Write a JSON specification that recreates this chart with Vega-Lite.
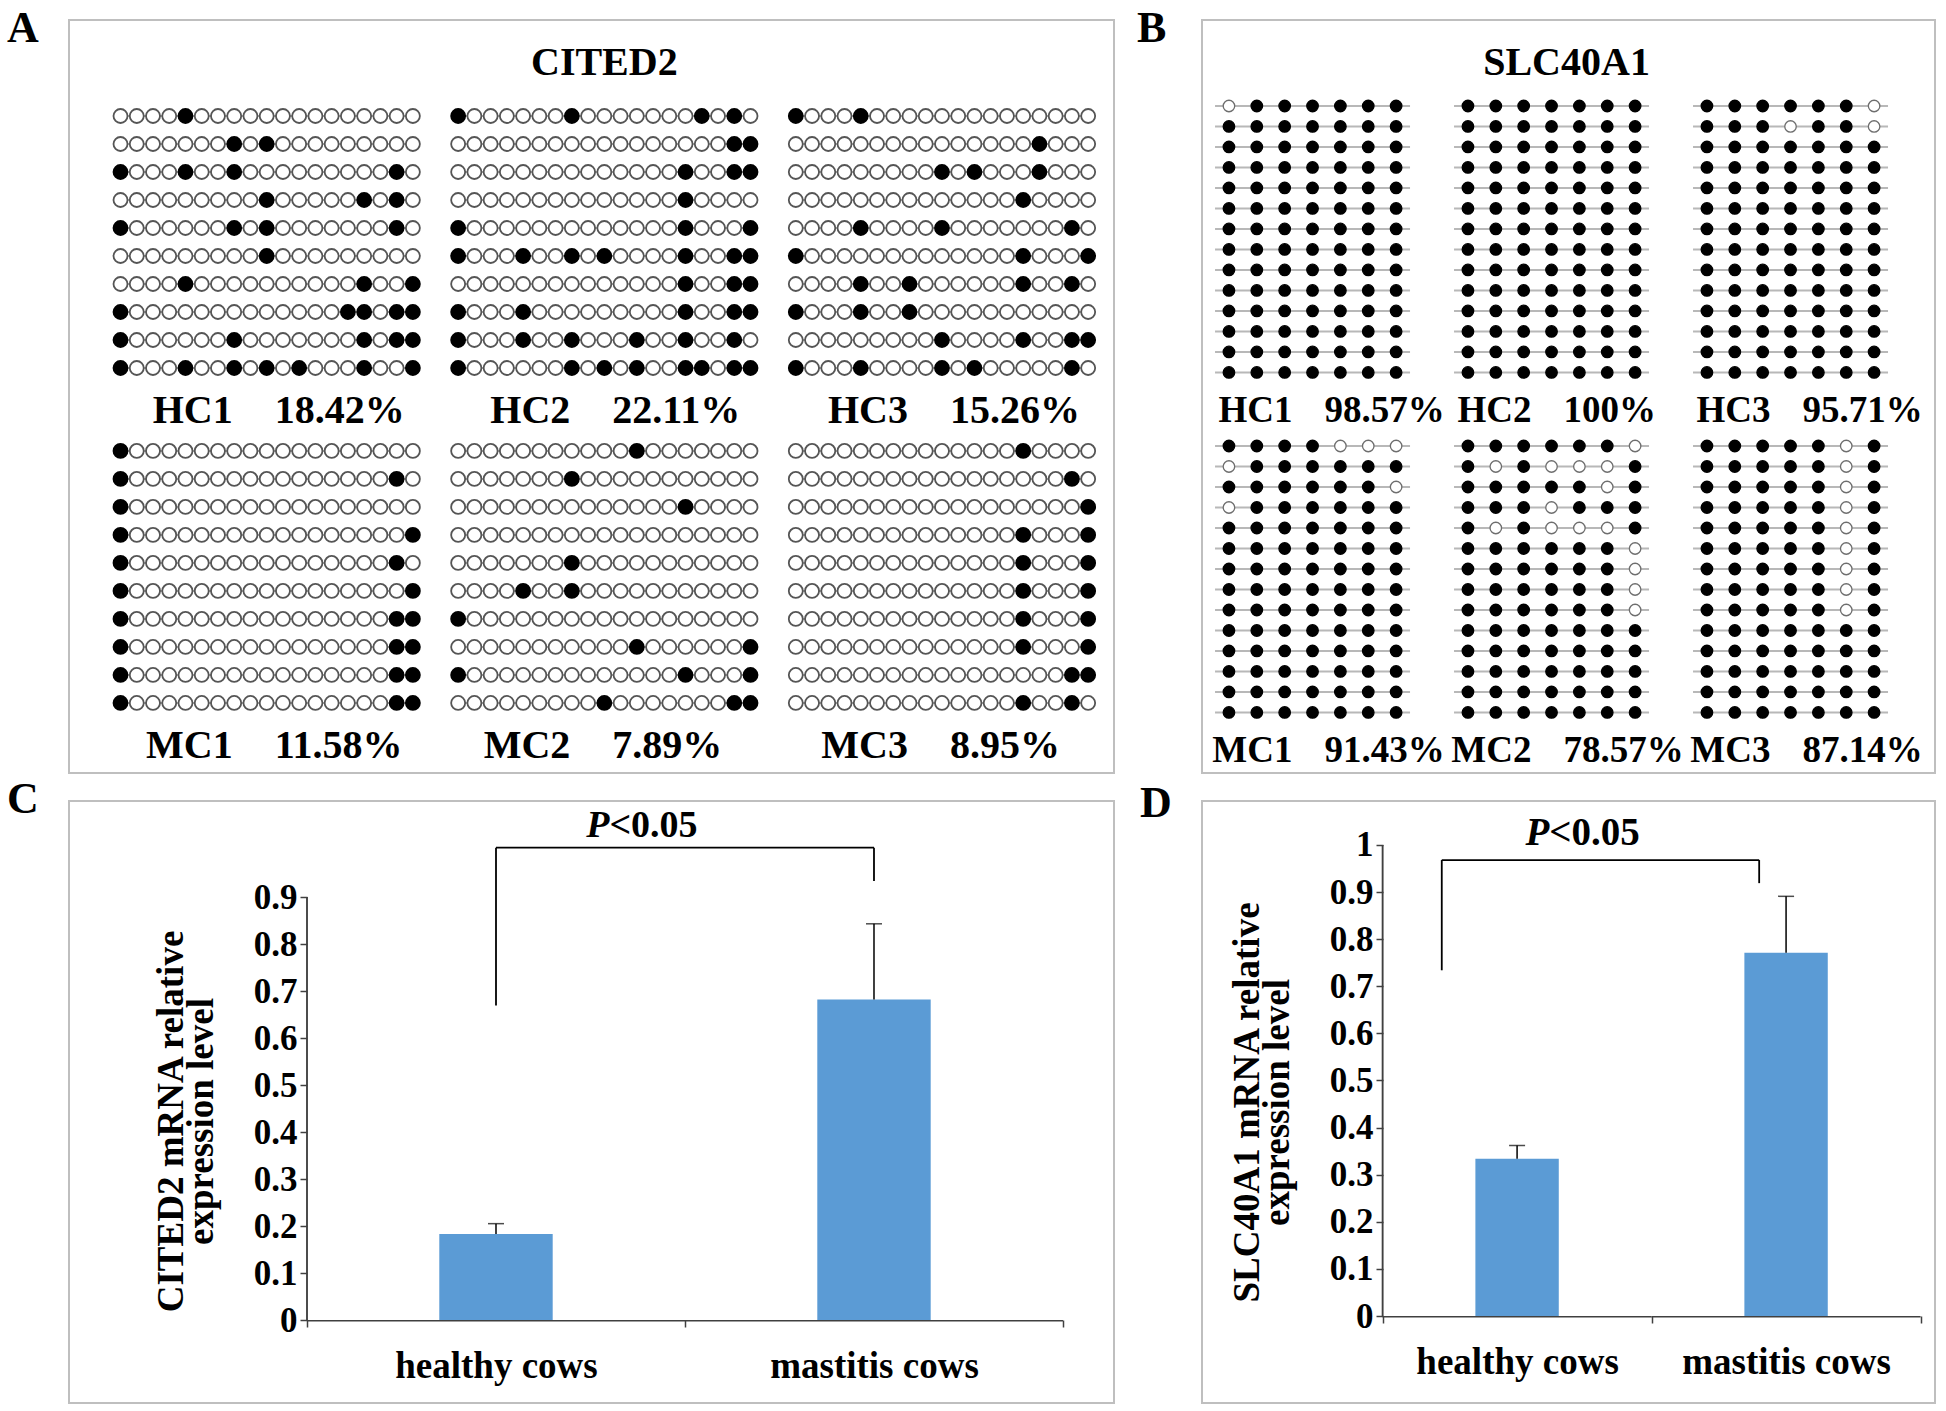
{
"$schema": "https://vega.github.io/schema/vega-lite/v6.json",
"background": "white",
"padding": {"left": 6, "top": 6, "right": 0, "bottom": 0},
"columns": 2,
"spacing": {"row": 28, "column": 88},
"bounds": "flush",
"resolve": {"scale": {"x": "independent", "y": "independent", "xOffset": "independent", "yOffset": "independent", "fill": "independent", "stroke": "independent"}},
"config": {
  "view": {"stroke": "#bfbfbf", "strokeWidth": 2},
  "title": {"font": "Liberation Serif", "fontWeight": "bold", "fontSize": 44, "color": "black", "anchor": "start", "frame": "group", "orient": "top", "offset": 0, "baseline": "alphabetic"},
  "axis": {"labelFont": "Liberation Serif", "labelFontWeight": "bold", "labelColor": "black", "titleFont": "Liberation Serif", "titleFontWeight": "bold", "titleColor": "black", "grid": false},
  "text": {"font": "Liberation Serif", "fontWeight": "bold", "color": "black"}
},
"concat": [
{
  "width": 1045, "height": 753,
  "title": {"text": "A", "dx": -62, "dy": 35},
  "data": {"values": "c,n,r,p,m\nHC,1,1,1,0\nHC,1,1,2,0\nHC,1,1,3,0\nHC,1,1,4,0\nHC,1,1,5,1\nHC,1,1,6,0\nHC,1,1,7,0\nHC,1,1,8,0\nHC,1,1,9,0\nHC,1,1,10,0\nHC,1,1,11,0\nHC,1,1,12,0\nHC,1,1,13,0\nHC,1,1,14,0\nHC,1,1,15,0\nHC,1,1,16,0\nHC,1,1,17,0\nHC,1,1,18,0\nHC,1,1,19,0\nHC,1,2,1,0\nHC,1,2,2,0\nHC,1,2,3,0\nHC,1,2,4,0\nHC,1,2,5,0\nHC,1,2,6,0\nHC,1,2,7,0\nHC,1,2,8,1\nHC,1,2,9,0\nHC,1,2,10,1\nHC,1,2,11,0\nHC,1,2,12,0\nHC,1,2,13,0\nHC,1,2,14,0\nHC,1,2,15,0\nHC,1,2,16,0\nHC,1,2,17,0\nHC,1,2,18,0\nHC,1,2,19,0\nHC,1,3,1,1\nHC,1,3,2,0\nHC,1,3,3,0\nHC,1,3,4,0\nHC,1,3,5,1\nHC,1,3,6,0\nHC,1,3,7,0\nHC,1,3,8,1\nHC,1,3,9,0\nHC,1,3,10,0\nHC,1,3,11,0\nHC,1,3,12,0\nHC,1,3,13,0\nHC,1,3,14,0\nHC,1,3,15,0\nHC,1,3,16,0\nHC,1,3,17,0\nHC,1,3,18,1\nHC,1,3,19,0\nHC,1,4,1,0\nHC,1,4,2,0\nHC,1,4,3,0\nHC,1,4,4,0\nHC,1,4,5,0\nHC,1,4,6,0\nHC,1,4,7,0\nHC,1,4,8,0\nHC,1,4,9,0\nHC,1,4,10,1\nHC,1,4,11,0\nHC,1,4,12,0\nHC,1,4,13,0\nHC,1,4,14,0\nHC,1,4,15,0\nHC,1,4,16,1\nHC,1,4,17,0\nHC,1,4,18,1\nHC,1,4,19,0\nHC,1,5,1,1\nHC,1,5,2,0\nHC,1,5,3,0\nHC,1,5,4,0\nHC,1,5,5,0\nHC,1,5,6,0\nHC,1,5,7,0\nHC,1,5,8,1\nHC,1,5,9,0\nHC,1,5,10,1\nHC,1,5,11,0\nHC,1,5,12,0\nHC,1,5,13,0\nHC,1,5,14,0\nHC,1,5,15,0\nHC,1,5,16,0\nHC,1,5,17,0\nHC,1,5,18,1\nHC,1,5,19,0\nHC,1,6,1,0\nHC,1,6,2,0\nHC,1,6,3,0\nHC,1,6,4,0\nHC,1,6,5,0\nHC,1,6,6,0\nHC,1,6,7,0\nHC,1,6,8,0\nHC,1,6,9,0\nHC,1,6,10,1\nHC,1,6,11,0\nHC,1,6,12,0\nHC,1,6,13,0\nHC,1,6,14,0\nHC,1,6,15,0\nHC,1,6,16,0\nHC,1,6,17,0\nHC,1,6,18,0\nHC,1,6,19,0\nHC,1,7,1,0\nHC,1,7,2,0\nHC,1,7,3,0\nHC,1,7,4,0\nHC,1,7,5,1\nHC,1,7,6,0\nHC,1,7,7,0\nHC,1,7,8,0\nHC,1,7,9,0\nHC,1,7,10,0\nHC,1,7,11,0\nHC,1,7,12,0\nHC,1,7,13,0\nHC,1,7,14,0\nHC,1,7,15,0\nHC,1,7,16,1\nHC,1,7,17,0\nHC,1,7,18,0\nHC,1,7,19,1\nHC,1,8,1,1\nHC,1,8,2,0\nHC,1,8,3,0\nHC,1,8,4,0\nHC,1,8,5,0\nHC,1,8,6,0\nHC,1,8,7,0\nHC,1,8,8,0\nHC,1,8,9,0\nHC,1,8,10,0\nHC,1,8,11,0\nHC,1,8,12,0\nHC,1,8,13,0\nHC,1,8,14,0\nHC,1,8,15,1\nHC,1,8,16,1\nHC,1,8,17,0\nHC,1,8,18,1\nHC,1,8,19,1\nHC,1,9,1,1\nHC,1,9,2,0\nHC,1,9,3,0\nHC,1,9,4,0\nHC,1,9,5,0\nHC,1,9,6,0\nHC,1,9,7,0\nHC,1,9,8,1\nHC,1,9,9,0\nHC,1,9,10,0\nHC,1,9,11,0\nHC,1,9,12,0\nHC,1,9,13,0\nHC,1,9,14,0\nHC,1,9,15,0\nHC,1,9,16,1\nHC,1,9,17,0\nHC,1,9,18,1\nHC,1,9,19,1\nHC,1,10,1,1\nHC,1,10,2,0\nHC,1,10,3,0\nHC,1,10,4,0\nHC,1,10,5,1\nHC,1,10,6,0\nHC,1,10,7,0\nHC,1,10,8,1\nHC,1,10,9,0\nHC,1,10,10,1\nHC,1,10,11,0\nHC,1,10,12,1\nHC,1,10,13,0\nHC,1,10,14,0\nHC,1,10,15,0\nHC,1,10,16,1\nHC,1,10,17,0\nHC,1,10,18,0\nHC,1,10,19,1\nHC,2,1,1,1\nHC,2,1,2,0\nHC,2,1,3,0\nHC,2,1,4,0\nHC,2,1,5,0\nHC,2,1,6,0\nHC,2,1,7,0\nHC,2,1,8,1\nHC,2,1,9,0\nHC,2,1,10,0\nHC,2,1,11,0\nHC,2,1,12,0\nHC,2,1,13,0\nHC,2,1,14,0\nHC,2,1,15,0\nHC,2,1,16,1\nHC,2,1,17,0\nHC,2,1,18,1\nHC,2,1,19,0\nHC,2,2,1,0\nHC,2,2,2,0\nHC,2,2,3,0\nHC,2,2,4,0\nHC,2,2,5,0\nHC,2,2,6,0\nHC,2,2,7,0\nHC,2,2,8,0\nHC,2,2,9,0\nHC,2,2,10,0\nHC,2,2,11,0\nHC,2,2,12,0\nHC,2,2,13,0\nHC,2,2,14,0\nHC,2,2,15,0\nHC,2,2,16,0\nHC,2,2,17,0\nHC,2,2,18,1\nHC,2,2,19,1\nHC,2,3,1,0\nHC,2,3,2,0\nHC,2,3,3,0\nHC,2,3,4,0\nHC,2,3,5,0\nHC,2,3,6,0\nHC,2,3,7,0\nHC,2,3,8,0\nHC,2,3,9,0\nHC,2,3,10,0\nHC,2,3,11,0\nHC,2,3,12,0\nHC,2,3,13,0\nHC,2,3,14,0\nHC,2,3,15,1\nHC,2,3,16,0\nHC,2,3,17,0\nHC,2,3,18,1\nHC,2,3,19,1\nHC,2,4,1,0\nHC,2,4,2,0\nHC,2,4,3,0\nHC,2,4,4,0\nHC,2,4,5,0\nHC,2,4,6,0\nHC,2,4,7,0\nHC,2,4,8,0\nHC,2,4,9,0\nHC,2,4,10,0\nHC,2,4,11,0\nHC,2,4,12,0\nHC,2,4,13,0\nHC,2,4,14,0\nHC,2,4,15,1\nHC,2,4,16,0\nHC,2,4,17,0\nHC,2,4,18,0\nHC,2,4,19,0\nHC,2,5,1,1\nHC,2,5,2,0\nHC,2,5,3,0\nHC,2,5,4,0\nHC,2,5,5,0\nHC,2,5,6,0\nHC,2,5,7,0\nHC,2,5,8,0\nHC,2,5,9,0\nHC,2,5,10,0\nHC,2,5,11,0\nHC,2,5,12,0\nHC,2,5,13,0\nHC,2,5,14,0\nHC,2,5,15,1\nHC,2,5,16,0\nHC,2,5,17,0\nHC,2,5,18,0\nHC,2,5,19,1\nHC,2,6,1,1\nHC,2,6,2,0\nHC,2,6,3,0\nHC,2,6,4,0\nHC,2,6,5,1\nHC,2,6,6,0\nHC,2,6,7,0\nHC,2,6,8,1\nHC,2,6,9,0\nHC,2,6,10,1\nHC,2,6,11,0\nHC,2,6,12,0\nHC,2,6,13,0\nHC,2,6,14,0\nHC,2,6,15,1\nHC,2,6,16,0\nHC,2,6,17,0\nHC,2,6,18,1\nHC,2,6,19,1\nHC,2,7,1,0\nHC,2,7,2,0\nHC,2,7,3,0\nHC,2,7,4,0\nHC,2,7,5,0\nHC,2,7,6,0\nHC,2,7,7,0\nHC,2,7,8,0\nHC,2,7,9,0\nHC,2,7,10,0\nHC,2,7,11,0\nHC,2,7,12,0\nHC,2,7,13,0\nHC,2,7,14,0\nHC,2,7,15,1\nHC,2,7,16,0\nHC,2,7,17,0\nHC,2,7,18,1\nHC,2,7,19,1\nHC,2,8,1,1\nHC,2,8,2,0\nHC,2,8,3,0\nHC,2,8,4,0\nHC,2,8,5,1\nHC,2,8,6,0\nHC,2,8,7,0\nHC,2,8,8,0\nHC,2,8,9,0\nHC,2,8,10,0\nHC,2,8,11,0\nHC,2,8,12,0\nHC,2,8,13,0\nHC,2,8,14,0\nHC,2,8,15,1\nHC,2,8,16,0\nHC,2,8,17,0\nHC,2,8,18,1\nHC,2,8,19,1\nHC,2,9,1,1\nHC,2,9,2,0\nHC,2,9,3,0\nHC,2,9,4,0\nHC,2,9,5,1\nHC,2,9,6,0\nHC,2,9,7,0\nHC,2,9,8,1\nHC,2,9,9,0\nHC,2,9,10,0\nHC,2,9,11,0\nHC,2,9,12,1\nHC,2,9,13,0\nHC,2,9,14,0\nHC,2,9,15,1\nHC,2,9,16,0\nHC,2,9,17,0\nHC,2,9,18,1\nHC,2,9,19,0\nHC,2,10,1,1\nHC,2,10,2,0\nHC,2,10,3,0\nHC,2,10,4,0\nHC,2,10,5,0\nHC,2,10,6,0\nHC,2,10,7,0\nHC,2,10,8,1\nHC,2,10,9,0\nHC,2,10,10,1\nHC,2,10,11,0\nHC,2,10,12,1\nHC,2,10,13,0\nHC,2,10,14,0\nHC,2,10,15,1\nHC,2,10,16,1\nHC,2,10,17,0\nHC,2,10,18,1\nHC,2,10,19,1\nHC,3,1,1,1\nHC,3,1,2,0\nHC,3,1,3,0\nHC,3,1,4,0\nHC,3,1,5,1\nHC,3,1,6,0\nHC,3,1,7,0\nHC,3,1,8,0\nHC,3,1,9,0\nHC,3,1,10,0\nHC,3,1,11,0\nHC,3,1,12,0\nHC,3,1,13,0\nHC,3,1,14,0\nHC,3,1,15,0\nHC,3,1,16,0\nHC,3,1,17,0\nHC,3,1,18,0\nHC,3,1,19,0\nHC,3,2,1,0\nHC,3,2,2,0\nHC,3,2,3,0\nHC,3,2,4,0\nHC,3,2,5,0\nHC,3,2,6,0\nHC,3,2,7,0\nHC,3,2,8,0\nHC,3,2,9,0\nHC,3,2,10,0\nHC,3,2,11,0\nHC,3,2,12,0\nHC,3,2,13,0\nHC,3,2,14,0\nHC,3,2,15,0\nHC,3,2,16,1\nHC,3,2,17,0\nHC,3,2,18,0\nHC,3,2,19,0\nHC,3,3,1,0\nHC,3,3,2,0\nHC,3,3,3,0\nHC,3,3,4,0\nHC,3,3,5,0\nHC,3,3,6,0\nHC,3,3,7,0\nHC,3,3,8,0\nHC,3,3,9,0\nHC,3,3,10,1\nHC,3,3,11,0\nHC,3,3,12,1\nHC,3,3,13,0\nHC,3,3,14,0\nHC,3,3,15,0\nHC,3,3,16,1\nHC,3,3,17,0\nHC,3,3,18,0\nHC,3,3,19,0\nHC,3,4,1,0\nHC,3,4,2,0\nHC,3,4,3,0\nHC,3,4,4,0\nHC,3,4,5,0\nHC,3,4,6,0\nHC,3,4,7,0\nHC,3,4,8,0\nHC,3,4,9,0\nHC,3,4,10,0\nHC,3,4,11,0\nHC,3,4,12,0\nHC,3,4,13,0\nHC,3,4,14,0\nHC,3,4,15,1\nHC,3,4,16,0\nHC,3,4,17,0\nHC,3,4,18,0\nHC,3,4,19,0\nHC,3,5,1,0\nHC,3,5,2,0\nHC,3,5,3,0\nHC,3,5,4,0\nHC,3,5,5,1\nHC,3,5,6,0\nHC,3,5,7,0\nHC,3,5,8,0\nHC,3,5,9,0\nHC,3,5,10,1\nHC,3,5,11,0\nHC,3,5,12,0\nHC,3,5,13,0\nHC,3,5,14,0\nHC,3,5,15,0\nHC,3,5,16,0\nHC,3,5,17,0\nHC,3,5,18,1\nHC,3,5,19,0\nHC,3,6,1,1\nHC,3,6,2,0\nHC,3,6,3,0\nHC,3,6,4,0\nHC,3,6,5,0\nHC,3,6,6,0\nHC,3,6,7,0\nHC,3,6,8,0\nHC,3,6,9,0\nHC,3,6,10,0\nHC,3,6,11,0\nHC,3,6,12,0\nHC,3,6,13,0\nHC,3,6,14,0\nHC,3,6,15,1\nHC,3,6,16,0\nHC,3,6,17,0\nHC,3,6,18,0\nHC,3,6,19,1\nHC,3,7,1,0\nHC,3,7,2,0\nHC,3,7,3,0\nHC,3,7,4,0\nHC,3,7,5,1\nHC,3,7,6,0\nHC,3,7,7,0\nHC,3,7,8,1\nHC,3,7,9,0\nHC,3,7,10,0\nHC,3,7,11,0\nHC,3,7,12,0\nHC,3,7,13,0\nHC,3,7,14,0\nHC,3,7,15,1\nHC,3,7,16,0\nHC,3,7,17,0\nHC,3,7,18,1\nHC,3,7,19,0\nHC,3,8,1,1\nHC,3,8,2,0\nHC,3,8,3,0\nHC,3,8,4,0\nHC,3,8,5,1\nHC,3,8,6,0\nHC,3,8,7,0\nHC,3,8,8,1\nHC,3,8,9,0\nHC,3,8,10,0\nHC,3,8,11,0\nHC,3,8,12,0\nHC,3,8,13,0\nHC,3,8,14,0\nHC,3,8,15,0\nHC,3,8,16,0\nHC,3,8,17,0\nHC,3,8,18,0\nHC,3,8,19,0\nHC,3,9,1,0\nHC,3,9,2,0\nHC,3,9,3,0\nHC,3,9,4,0\nHC,3,9,5,0\nHC,3,9,6,0\nHC,3,9,7,0\nHC,3,9,8,0\nHC,3,9,9,0\nHC,3,9,10,1\nHC,3,9,11,0\nHC,3,9,12,0\nHC,3,9,13,0\nHC,3,9,14,0\nHC,3,9,15,1\nHC,3,9,16,0\nHC,3,9,17,0\nHC,3,9,18,1\nHC,3,9,19,1\nHC,3,10,1,1\nHC,3,10,2,0\nHC,3,10,3,0\nHC,3,10,4,0\nHC,3,10,5,1\nHC,3,10,6,0\nHC,3,10,7,0\nHC,3,10,8,0\nHC,3,10,9,0\nHC,3,10,10,1\nHC,3,10,11,0\nHC,3,10,12,1\nHC,3,10,13,0\nHC,3,10,14,0\nHC,3,10,15,0\nHC,3,10,16,0\nHC,3,10,17,0\nHC,3,10,18,1\nHC,3,10,19,0\nMC,1,1,1,1\nMC,1,1,2,0\nMC,1,1,3,0\nMC,1,1,4,0\nMC,1,1,5,0\nMC,1,1,6,0\nMC,1,1,7,0\nMC,1,1,8,0\nMC,1,1,9,0\nMC,1,1,10,0\nMC,1,1,11,0\nMC,1,1,12,0\nMC,1,1,13,0\nMC,1,1,14,0\nMC,1,1,15,0\nMC,1,1,16,0\nMC,1,1,17,0\nMC,1,1,18,0\nMC,1,1,19,0\nMC,1,2,1,1\nMC,1,2,2,0\nMC,1,2,3,0\nMC,1,2,4,0\nMC,1,2,5,0\nMC,1,2,6,0\nMC,1,2,7,0\nMC,1,2,8,0\nMC,1,2,9,0\nMC,1,2,10,0\nMC,1,2,11,0\nMC,1,2,12,0\nMC,1,2,13,0\nMC,1,2,14,0\nMC,1,2,15,0\nMC,1,2,16,0\nMC,1,2,17,0\nMC,1,2,18,1\nMC,1,2,19,0\nMC,1,3,1,1\nMC,1,3,2,0\nMC,1,3,3,0\nMC,1,3,4,0\nMC,1,3,5,0\nMC,1,3,6,0\nMC,1,3,7,0\nMC,1,3,8,0\nMC,1,3,9,0\nMC,1,3,10,0\nMC,1,3,11,0\nMC,1,3,12,0\nMC,1,3,13,0\nMC,1,3,14,0\nMC,1,3,15,0\nMC,1,3,16,0\nMC,1,3,17,0\nMC,1,3,18,0\nMC,1,3,19,0\nMC,1,4,1,1\nMC,1,4,2,0\nMC,1,4,3,0\nMC,1,4,4,0\nMC,1,4,5,0\nMC,1,4,6,0\nMC,1,4,7,0\nMC,1,4,8,0\nMC,1,4,9,0\nMC,1,4,10,0\nMC,1,4,11,0\nMC,1,4,12,0\nMC,1,4,13,0\nMC,1,4,14,0\nMC,1,4,15,0\nMC,1,4,16,0\nMC,1,4,17,0\nMC,1,4,18,0\nMC,1,4,19,1\nMC,1,5,1,1\nMC,1,5,2,0\nMC,1,5,3,0\nMC,1,5,4,0\nMC,1,5,5,0\nMC,1,5,6,0\nMC,1,5,7,0\nMC,1,5,8,0\nMC,1,5,9,0\nMC,1,5,10,0\nMC,1,5,11,0\nMC,1,5,12,0\nMC,1,5,13,0\nMC,1,5,14,0\nMC,1,5,15,0\nMC,1,5,16,0\nMC,1,5,17,0\nMC,1,5,18,1\nMC,1,5,19,0\nMC,1,6,1,1\nMC,1,6,2,0\nMC,1,6,3,0\nMC,1,6,4,0\nMC,1,6,5,0\nMC,1,6,6,0\nMC,1,6,7,0\nMC,1,6,8,0\nMC,1,6,9,0\nMC,1,6,10,0\nMC,1,6,11,0\nMC,1,6,12,0\nMC,1,6,13,0\nMC,1,6,14,0\nMC,1,6,15,0\nMC,1,6,16,0\nMC,1,6,17,0\nMC,1,6,18,0\nMC,1,6,19,1\nMC,1,7,1,1\nMC,1,7,2,0\nMC,1,7,3,0\nMC,1,7,4,0\nMC,1,7,5,0\nMC,1,7,6,0\nMC,1,7,7,0\nMC,1,7,8,0\nMC,1,7,9,0\nMC,1,7,10,0\nMC,1,7,11,0\nMC,1,7,12,0\nMC,1,7,13,0\nMC,1,7,14,0\nMC,1,7,15,0\nMC,1,7,16,0\nMC,1,7,17,0\nMC,1,7,18,1\nMC,1,7,19,1\nMC,1,8,1,1\nMC,1,8,2,0\nMC,1,8,3,0\nMC,1,8,4,0\nMC,1,8,5,0\nMC,1,8,6,0\nMC,1,8,7,0\nMC,1,8,8,0\nMC,1,8,9,0\nMC,1,8,10,0\nMC,1,8,11,0\nMC,1,8,12,0\nMC,1,8,13,0\nMC,1,8,14,0\nMC,1,8,15,0\nMC,1,8,16,0\nMC,1,8,17,0\nMC,1,8,18,1\nMC,1,8,19,1\nMC,1,9,1,1\nMC,1,9,2,0\nMC,1,9,3,0\nMC,1,9,4,0\nMC,1,9,5,0\nMC,1,9,6,0\nMC,1,9,7,0\nMC,1,9,8,0\nMC,1,9,9,0\nMC,1,9,10,0\nMC,1,9,11,0\nMC,1,9,12,0\nMC,1,9,13,0\nMC,1,9,14,0\nMC,1,9,15,0\nMC,1,9,16,0\nMC,1,9,17,0\nMC,1,9,18,1\nMC,1,9,19,1\nMC,1,10,1,1\nMC,1,10,2,0\nMC,1,10,3,0\nMC,1,10,4,0\nMC,1,10,5,0\nMC,1,10,6,0\nMC,1,10,7,0\nMC,1,10,8,0\nMC,1,10,9,0\nMC,1,10,10,0\nMC,1,10,11,0\nMC,1,10,12,0\nMC,1,10,13,0\nMC,1,10,14,0\nMC,1,10,15,0\nMC,1,10,16,0\nMC,1,10,17,0\nMC,1,10,18,1\nMC,1,10,19,1\nMC,2,1,1,0\nMC,2,1,2,0\nMC,2,1,3,0\nMC,2,1,4,0\nMC,2,1,5,0\nMC,2,1,6,0\nMC,2,1,7,0\nMC,2,1,8,0\nMC,2,1,9,0\nMC,2,1,10,0\nMC,2,1,11,0\nMC,2,1,12,1\nMC,2,1,13,0\nMC,2,1,14,0\nMC,2,1,15,0\nMC,2,1,16,0\nMC,2,1,17,0\nMC,2,1,18,0\nMC,2,1,19,0\nMC,2,2,1,0\nMC,2,2,2,0\nMC,2,2,3,0\nMC,2,2,4,0\nMC,2,2,5,0\nMC,2,2,6,0\nMC,2,2,7,0\nMC,2,2,8,1\nMC,2,2,9,0\nMC,2,2,10,0\nMC,2,2,11,0\nMC,2,2,12,0\nMC,2,2,13,0\nMC,2,2,14,0\nMC,2,2,15,0\nMC,2,2,16,0\nMC,2,2,17,0\nMC,2,2,18,0\nMC,2,2,19,0\nMC,2,3,1,0\nMC,2,3,2,0\nMC,2,3,3,0\nMC,2,3,4,0\nMC,2,3,5,0\nMC,2,3,6,0\nMC,2,3,7,0\nMC,2,3,8,0\nMC,2,3,9,0\nMC,2,3,10,0\nMC,2,3,11,0\nMC,2,3,12,0\nMC,2,3,13,0\nMC,2,3,14,0\nMC,2,3,15,1\nMC,2,3,16,0\nMC,2,3,17,0\nMC,2,3,18,0\nMC,2,3,19,0\nMC,2,4,1,0\nMC,2,4,2,0\nMC,2,4,3,0\nMC,2,4,4,0\nMC,2,4,5,0\nMC,2,4,6,0\nMC,2,4,7,0\nMC,2,4,8,0\nMC,2,4,9,0\nMC,2,4,10,0\nMC,2,4,11,0\nMC,2,4,12,0\nMC,2,4,13,0\nMC,2,4,14,0\nMC,2,4,15,0\nMC,2,4,16,0\nMC,2,4,17,0\nMC,2,4,18,0\nMC,2,4,19,0\nMC,2,5,1,0\nMC,2,5,2,0\nMC,2,5,3,0\nMC,2,5,4,0\nMC,2,5,5,0\nMC,2,5,6,0\nMC,2,5,7,0\nMC,2,5,8,1\nMC,2,5,9,0\nMC,2,5,10,0\nMC,2,5,11,0\nMC,2,5,12,0\nMC,2,5,13,0\nMC,2,5,14,0\nMC,2,5,15,0\nMC,2,5,16,0\nMC,2,5,17,0\nMC,2,5,18,0\nMC,2,5,19,0\nMC,2,6,1,0\nMC,2,6,2,0\nMC,2,6,3,0\nMC,2,6,4,0\nMC,2,6,5,1\nMC,2,6,6,0\nMC,2,6,7,0\nMC,2,6,8,1\nMC,2,6,9,0\nMC,2,6,10,0\nMC,2,6,11,0\nMC,2,6,12,0\nMC,2,6,13,0\nMC,2,6,14,0\nMC,2,6,15,0\nMC,2,6,16,0\nMC,2,6,17,0\nMC,2,6,18,0\nMC,2,6,19,0\nMC,2,7,1,1\nMC,2,7,2,0\nMC,2,7,3,0\nMC,2,7,4,0\nMC,2,7,5,0\nMC,2,7,6,0\nMC,2,7,7,0\nMC,2,7,8,0\nMC,2,7,9,0\nMC,2,7,10,0\nMC,2,7,11,0\nMC,2,7,12,0\nMC,2,7,13,0\nMC,2,7,14,0\nMC,2,7,15,0\nMC,2,7,16,0\nMC,2,7,17,0\nMC,2,7,18,0\nMC,2,7,19,0\nMC,2,8,1,0\nMC,2,8,2,0\nMC,2,8,3,0\nMC,2,8,4,0\nMC,2,8,5,0\nMC,2,8,6,0\nMC,2,8,7,0\nMC,2,8,8,0\nMC,2,8,9,0\nMC,2,8,10,0\nMC,2,8,11,0\nMC,2,8,12,1\nMC,2,8,13,0\nMC,2,8,14,0\nMC,2,8,15,0\nMC,2,8,16,0\nMC,2,8,17,0\nMC,2,8,18,0\nMC,2,8,19,1\nMC,2,9,1,1\nMC,2,9,2,0\nMC,2,9,3,0\nMC,2,9,4,0\nMC,2,9,5,0\nMC,2,9,6,0\nMC,2,9,7,0\nMC,2,9,8,0\nMC,2,9,9,0\nMC,2,9,10,0\nMC,2,9,11,0\nMC,2,9,12,0\nMC,2,9,13,0\nMC,2,9,14,0\nMC,2,9,15,1\nMC,2,9,16,0\nMC,2,9,17,0\nMC,2,9,18,0\nMC,2,9,19,1\nMC,2,10,1,0\nMC,2,10,2,0\nMC,2,10,3,0\nMC,2,10,4,0\nMC,2,10,5,0\nMC,2,10,6,0\nMC,2,10,7,0\nMC,2,10,8,0\nMC,2,10,9,0\nMC,2,10,10,1\nMC,2,10,11,0\nMC,2,10,12,0\nMC,2,10,13,0\nMC,2,10,14,0\nMC,2,10,15,0\nMC,2,10,16,0\nMC,2,10,17,0\nMC,2,10,18,1\nMC,2,10,19,1\nMC,3,1,1,0\nMC,3,1,2,0\nMC,3,1,3,0\nMC,3,1,4,0\nMC,3,1,5,0\nMC,3,1,6,0\nMC,3,1,7,0\nMC,3,1,8,0\nMC,3,1,9,0\nMC,3,1,10,0\nMC,3,1,11,0\nMC,3,1,12,0\nMC,3,1,13,0\nMC,3,1,14,0\nMC,3,1,15,1\nMC,3,1,16,0\nMC,3,1,17,0\nMC,3,1,18,0\nMC,3,1,19,0\nMC,3,2,1,0\nMC,3,2,2,0\nMC,3,2,3,0\nMC,3,2,4,0\nMC,3,2,5,0\nMC,3,2,6,0\nMC,3,2,7,0\nMC,3,2,8,0\nMC,3,2,9,0\nMC,3,2,10,0\nMC,3,2,11,0\nMC,3,2,12,0\nMC,3,2,13,0\nMC,3,2,14,0\nMC,3,2,15,0\nMC,3,2,16,0\nMC,3,2,17,0\nMC,3,2,18,1\nMC,3,2,19,0\nMC,3,3,1,0\nMC,3,3,2,0\nMC,3,3,3,0\nMC,3,3,4,0\nMC,3,3,5,0\nMC,3,3,6,0\nMC,3,3,7,0\nMC,3,3,8,0\nMC,3,3,9,0\nMC,3,3,10,0\nMC,3,3,11,0\nMC,3,3,12,0\nMC,3,3,13,0\nMC,3,3,14,0\nMC,3,3,15,0\nMC,3,3,16,0\nMC,3,3,17,0\nMC,3,3,18,0\nMC,3,3,19,1\nMC,3,4,1,0\nMC,3,4,2,0\nMC,3,4,3,0\nMC,3,4,4,0\nMC,3,4,5,0\nMC,3,4,6,0\nMC,3,4,7,0\nMC,3,4,8,0\nMC,3,4,9,0\nMC,3,4,10,0\nMC,3,4,11,0\nMC,3,4,12,0\nMC,3,4,13,0\nMC,3,4,14,0\nMC,3,4,15,1\nMC,3,4,16,0\nMC,3,4,17,0\nMC,3,4,18,0\nMC,3,4,19,1\nMC,3,5,1,0\nMC,3,5,2,0\nMC,3,5,3,0\nMC,3,5,4,0\nMC,3,5,5,0\nMC,3,5,6,0\nMC,3,5,7,0\nMC,3,5,8,0\nMC,3,5,9,0\nMC,3,5,10,0\nMC,3,5,11,0\nMC,3,5,12,0\nMC,3,5,13,0\nMC,3,5,14,0\nMC,3,5,15,1\nMC,3,5,16,0\nMC,3,5,17,0\nMC,3,5,18,0\nMC,3,5,19,1\nMC,3,6,1,0\nMC,3,6,2,0\nMC,3,6,3,0\nMC,3,6,4,0\nMC,3,6,5,0\nMC,3,6,6,0\nMC,3,6,7,0\nMC,3,6,8,0\nMC,3,6,9,0\nMC,3,6,10,0\nMC,3,6,11,0\nMC,3,6,12,0\nMC,3,6,13,0\nMC,3,6,14,0\nMC,3,6,15,1\nMC,3,6,16,0\nMC,3,6,17,0\nMC,3,6,18,0\nMC,3,6,19,1\nMC,3,7,1,0\nMC,3,7,2,0\nMC,3,7,3,0\nMC,3,7,4,0\nMC,3,7,5,0\nMC,3,7,6,0\nMC,3,7,7,0\nMC,3,7,8,0\nMC,3,7,9,0\nMC,3,7,10,0\nMC,3,7,11,0\nMC,3,7,12,0\nMC,3,7,13,0\nMC,3,7,14,0\nMC,3,7,15,1\nMC,3,7,16,0\nMC,3,7,17,0\nMC,3,7,18,0\nMC,3,7,19,1\nMC,3,8,1,0\nMC,3,8,2,0\nMC,3,8,3,0\nMC,3,8,4,0\nMC,3,8,5,0\nMC,3,8,6,0\nMC,3,8,7,0\nMC,3,8,8,0\nMC,3,8,9,0\nMC,3,8,10,0\nMC,3,8,11,0\nMC,3,8,12,0\nMC,3,8,13,0\nMC,3,8,14,0\nMC,3,8,15,1\nMC,3,8,16,0\nMC,3,8,17,0\nMC,3,8,18,0\nMC,3,8,19,1\nMC,3,9,1,0\nMC,3,9,2,0\nMC,3,9,3,0\nMC,3,9,4,0\nMC,3,9,5,0\nMC,3,9,6,0\nMC,3,9,7,0\nMC,3,9,8,0\nMC,3,9,9,0\nMC,3,9,10,0\nMC,3,9,11,0\nMC,3,9,12,0\nMC,3,9,13,0\nMC,3,9,14,0\nMC,3,9,15,0\nMC,3,9,16,0\nMC,3,9,17,0\nMC,3,9,18,1\nMC,3,9,19,1\nMC,3,10,1,0\nMC,3,10,2,0\nMC,3,10,3,0\nMC,3,10,4,0\nMC,3,10,5,0\nMC,3,10,6,0\nMC,3,10,7,0\nMC,3,10,8,0\nMC,3,10,9,0\nMC,3,10,10,0\nMC,3,10,11,0\nMC,3,10,12,0\nMC,3,10,13,0\nMC,3,10,14,0\nMC,3,10,15,1\nMC,3,10,16,0\nMC,3,10,17,0\nMC,3,10,18,1\nMC,3,10,19,0", "format": {"type": "csv", "parse": {"n": "number", "r": "number", "p": "number", "m": "number"}}},
  "encoding": {
    "x": {"field": "n", "type": "ordinal", "axis": null, "scale": {"domain": [1, 2, 3], "paddingInner": 0.086, "paddingOuter": 0.0905, "align": 0.71}},
    "y": {"field": "c", "type": "nominal", "axis": null, "scale": {"domain": ["HC", "MC"], "paddingInner": 0.164, "paddingOuter": 0.206, "align": 0.594}}
  },
  "layer": [
    {"transform": [{"aggregate": [{"op": "count", "as": "k"}], "groupby": ["c", "n", "r"]}],
     "mark": {"type": "tick", "orient": "horizontal", "size": 292, "thickness": 1.5, "color": "#666666"},
     "encoding": {"yOffset": {"field": "r", "type": "ordinal", "scale": {"type": "band", "domain": [1,2,3,4,5,6,7,8,9,10], "paddingInner": 0, "paddingOuter": 0}}}},
    {"mark": {"type": "point", "shape": "circle", "filled": true, "size": 196, "strokeWidth": 1.8, "opacity": 1},
     "encoding": {
       "xOffset": {"field": "p", "type": "ordinal", "scale": {"type": "band", "domain": [1,2,3,4,5,6,7,8,9,10,11,12,13,14,15,16,17,18,19], "paddingInner": 0, "paddingOuter": 0}},
       "yOffset": {"field": "r", "type": "ordinal"},
       "fill": {"field": "m", "type": "nominal", "scale": {"domain": [0, 1], "range": ["#ffffff", "#000000"]}, "legend": null},
       "stroke": {"field": "m", "type": "nominal", "scale": {"domain": [0, 1], "range": ["#555555", "#000000"]}, "legend": null}}},
    {"data": {"values": [{"gene": "CITED2"}]},
     "mark": {"type": "text", "fontSize": 40, "baseline": "middle", "dy": -53},
     "encoding": {"x": {"datum": 2, "type": "ordinal"}, "y": {"datum": "HC", "type": "nominal"}, "yOffset": {"datum": 1, "type": "ordinal"}, "text": {"field": "gene"}}},
    {"data": {"values": [{"c": "HC", "n": 1, "s": "HC1", "pct": "18.42%"}, {"c": "HC", "n": 2, "s": "HC2", "pct": "22.11%"}, {"c": "HC", "n": 3, "s": "HC3", "pct": "15.26%"}, {"c": "MC", "n": 1, "s": "MC1", "pct": "11.58%"}, {"c": "MC", "n": 2, "s": "MC2", "pct": "7.89%"}, {"c": "MC", "n": 3, "s": "MC3", "pct": "8.95%"}]},
     "mark": {"type": "text", "fontSize": 40, "align": "right", "baseline": "middle", "dx": -34, "dy": 43},
     "encoding": {"yOffset": {"datum": 10, "type": "ordinal"}, "text": {"field": "s"}}},
    {"data": {"values": [{"c": "HC", "n": 1, "s": "HC1", "pct": "18.42%"}, {"c": "HC", "n": 2, "s": "HC2", "pct": "22.11%"}, {"c": "HC", "n": 3, "s": "HC3", "pct": "15.26%"}, {"c": "MC", "n": 1, "s": "MC1", "pct": "11.58%"}, {"c": "MC", "n": 2, "s": "MC2", "pct": "7.89%"}, {"c": "MC", "n": 3, "s": "MC3", "pct": "8.95%"}]},
     "mark": {"type": "text", "fontSize": 40, "align": "left", "baseline": "middle", "dx": 8, "dy": 43},
     "encoding": {"yOffset": {"datum": 10, "type": "ordinal"}, "text": {"field": "pct"}}}
  ]
},
{
  "width": 733, "height": 753,
  "title": {"text": "B", "dx": -65, "dy": 35},
  "data": {"values": "c,n,r,p,m\nHC,1,1,1,0\nHC,1,1,2,1\nHC,1,1,3,1\nHC,1,1,4,1\nHC,1,1,5,1\nHC,1,1,6,1\nHC,1,1,7,1\nHC,1,2,1,1\nHC,1,2,2,1\nHC,1,2,3,1\nHC,1,2,4,1\nHC,1,2,5,1\nHC,1,2,6,1\nHC,1,2,7,1\nHC,1,3,1,1\nHC,1,3,2,1\nHC,1,3,3,1\nHC,1,3,4,1\nHC,1,3,5,1\nHC,1,3,6,1\nHC,1,3,7,1\nHC,1,4,1,1\nHC,1,4,2,1\nHC,1,4,3,1\nHC,1,4,4,1\nHC,1,4,5,1\nHC,1,4,6,1\nHC,1,4,7,1\nHC,1,5,1,1\nHC,1,5,2,1\nHC,1,5,3,1\nHC,1,5,4,1\nHC,1,5,5,1\nHC,1,5,6,1\nHC,1,5,7,1\nHC,1,6,1,1\nHC,1,6,2,1\nHC,1,6,3,1\nHC,1,6,4,1\nHC,1,6,5,1\nHC,1,6,6,1\nHC,1,6,7,1\nHC,1,7,1,1\nHC,1,7,2,1\nHC,1,7,3,1\nHC,1,7,4,1\nHC,1,7,5,1\nHC,1,7,6,1\nHC,1,7,7,1\nHC,1,8,1,1\nHC,1,8,2,1\nHC,1,8,3,1\nHC,1,8,4,1\nHC,1,8,5,1\nHC,1,8,6,1\nHC,1,8,7,1\nHC,1,9,1,1\nHC,1,9,2,1\nHC,1,9,3,1\nHC,1,9,4,1\nHC,1,9,5,1\nHC,1,9,6,1\nHC,1,9,7,1\nHC,1,10,1,1\nHC,1,10,2,1\nHC,1,10,3,1\nHC,1,10,4,1\nHC,1,10,5,1\nHC,1,10,6,1\nHC,1,10,7,1\nHC,1,11,1,1\nHC,1,11,2,1\nHC,1,11,3,1\nHC,1,11,4,1\nHC,1,11,5,1\nHC,1,11,6,1\nHC,1,11,7,1\nHC,1,12,1,1\nHC,1,12,2,1\nHC,1,12,3,1\nHC,1,12,4,1\nHC,1,12,5,1\nHC,1,12,6,1\nHC,1,12,7,1\nHC,1,13,1,1\nHC,1,13,2,1\nHC,1,13,3,1\nHC,1,13,4,1\nHC,1,13,5,1\nHC,1,13,6,1\nHC,1,13,7,1\nHC,1,14,1,1\nHC,1,14,2,1\nHC,1,14,3,1\nHC,1,14,4,1\nHC,1,14,5,1\nHC,1,14,6,1\nHC,1,14,7,1\nHC,2,1,1,1\nHC,2,1,2,1\nHC,2,1,3,1\nHC,2,1,4,1\nHC,2,1,5,1\nHC,2,1,6,1\nHC,2,1,7,1\nHC,2,2,1,1\nHC,2,2,2,1\nHC,2,2,3,1\nHC,2,2,4,1\nHC,2,2,5,1\nHC,2,2,6,1\nHC,2,2,7,1\nHC,2,3,1,1\nHC,2,3,2,1\nHC,2,3,3,1\nHC,2,3,4,1\nHC,2,3,5,1\nHC,2,3,6,1\nHC,2,3,7,1\nHC,2,4,1,1\nHC,2,4,2,1\nHC,2,4,3,1\nHC,2,4,4,1\nHC,2,4,5,1\nHC,2,4,6,1\nHC,2,4,7,1\nHC,2,5,1,1\nHC,2,5,2,1\nHC,2,5,3,1\nHC,2,5,4,1\nHC,2,5,5,1\nHC,2,5,6,1\nHC,2,5,7,1\nHC,2,6,1,1\nHC,2,6,2,1\nHC,2,6,3,1\nHC,2,6,4,1\nHC,2,6,5,1\nHC,2,6,6,1\nHC,2,6,7,1\nHC,2,7,1,1\nHC,2,7,2,1\nHC,2,7,3,1\nHC,2,7,4,1\nHC,2,7,5,1\nHC,2,7,6,1\nHC,2,7,7,1\nHC,2,8,1,1\nHC,2,8,2,1\nHC,2,8,3,1\nHC,2,8,4,1\nHC,2,8,5,1\nHC,2,8,6,1\nHC,2,8,7,1\nHC,2,9,1,1\nHC,2,9,2,1\nHC,2,9,3,1\nHC,2,9,4,1\nHC,2,9,5,1\nHC,2,9,6,1\nHC,2,9,7,1\nHC,2,10,1,1\nHC,2,10,2,1\nHC,2,10,3,1\nHC,2,10,4,1\nHC,2,10,5,1\nHC,2,10,6,1\nHC,2,10,7,1\nHC,2,11,1,1\nHC,2,11,2,1\nHC,2,11,3,1\nHC,2,11,4,1\nHC,2,11,5,1\nHC,2,11,6,1\nHC,2,11,7,1\nHC,2,12,1,1\nHC,2,12,2,1\nHC,2,12,3,1\nHC,2,12,4,1\nHC,2,12,5,1\nHC,2,12,6,1\nHC,2,12,7,1\nHC,2,13,1,1\nHC,2,13,2,1\nHC,2,13,3,1\nHC,2,13,4,1\nHC,2,13,5,1\nHC,2,13,6,1\nHC,2,13,7,1\nHC,2,14,1,1\nHC,2,14,2,1\nHC,2,14,3,1\nHC,2,14,4,1\nHC,2,14,5,1\nHC,2,14,6,1\nHC,2,14,7,1\nHC,3,1,1,1\nHC,3,1,2,1\nHC,3,1,3,1\nHC,3,1,4,1\nHC,3,1,5,1\nHC,3,1,6,1\nHC,3,1,7,0\nHC,3,2,1,1\nHC,3,2,2,1\nHC,3,2,3,1\nHC,3,2,4,0\nHC,3,2,5,1\nHC,3,2,6,1\nHC,3,2,7,0\nHC,3,3,1,1\nHC,3,3,2,1\nHC,3,3,3,1\nHC,3,3,4,1\nHC,3,3,5,1\nHC,3,3,6,1\nHC,3,3,7,1\nHC,3,4,1,1\nHC,3,4,2,1\nHC,3,4,3,1\nHC,3,4,4,1\nHC,3,4,5,1\nHC,3,4,6,1\nHC,3,4,7,1\nHC,3,5,1,1\nHC,3,5,2,1\nHC,3,5,3,1\nHC,3,5,4,1\nHC,3,5,5,1\nHC,3,5,6,1\nHC,3,5,7,1\nHC,3,6,1,1\nHC,3,6,2,1\nHC,3,6,3,1\nHC,3,6,4,1\nHC,3,6,5,1\nHC,3,6,6,1\nHC,3,6,7,1\nHC,3,7,1,1\nHC,3,7,2,1\nHC,3,7,3,1\nHC,3,7,4,1\nHC,3,7,5,1\nHC,3,7,6,1\nHC,3,7,7,1\nHC,3,8,1,1\nHC,3,8,2,1\nHC,3,8,3,1\nHC,3,8,4,1\nHC,3,8,5,1\nHC,3,8,6,1\nHC,3,8,7,1\nHC,3,9,1,1\nHC,3,9,2,1\nHC,3,9,3,1\nHC,3,9,4,1\nHC,3,9,5,1\nHC,3,9,6,1\nHC,3,9,7,1\nHC,3,10,1,1\nHC,3,10,2,1\nHC,3,10,3,1\nHC,3,10,4,1\nHC,3,10,5,1\nHC,3,10,6,1\nHC,3,10,7,1\nHC,3,11,1,1\nHC,3,11,2,1\nHC,3,11,3,1\nHC,3,11,4,1\nHC,3,11,5,1\nHC,3,11,6,1\nHC,3,11,7,1\nHC,3,12,1,1\nHC,3,12,2,1\nHC,3,12,3,1\nHC,3,12,4,1\nHC,3,12,5,1\nHC,3,12,6,1\nHC,3,12,7,1\nHC,3,13,1,1\nHC,3,13,2,1\nHC,3,13,3,1\nHC,3,13,4,1\nHC,3,13,5,1\nHC,3,13,6,1\nHC,3,13,7,1\nHC,3,14,1,1\nHC,3,14,2,1\nHC,3,14,3,1\nHC,3,14,4,1\nHC,3,14,5,1\nHC,3,14,6,1\nHC,3,14,7,1\nMC,1,1,1,1\nMC,1,1,2,1\nMC,1,1,3,1\nMC,1,1,4,1\nMC,1,1,5,0\nMC,1,1,6,0\nMC,1,1,7,0\nMC,1,2,1,0\nMC,1,2,2,1\nMC,1,2,3,1\nMC,1,2,4,1\nMC,1,2,5,1\nMC,1,2,6,1\nMC,1,2,7,1\nMC,1,3,1,1\nMC,1,3,2,1\nMC,1,3,3,1\nMC,1,3,4,1\nMC,1,3,5,1\nMC,1,3,6,1\nMC,1,3,7,0\nMC,1,4,1,0\nMC,1,4,2,1\nMC,1,4,3,1\nMC,1,4,4,1\nMC,1,4,5,1\nMC,1,4,6,1\nMC,1,4,7,1\nMC,1,5,1,1\nMC,1,5,2,1\nMC,1,5,3,1\nMC,1,5,4,1\nMC,1,5,5,1\nMC,1,5,6,1\nMC,1,5,7,1\nMC,1,6,1,1\nMC,1,6,2,1\nMC,1,6,3,1\nMC,1,6,4,1\nMC,1,6,5,1\nMC,1,6,6,1\nMC,1,6,7,1\nMC,1,7,1,1\nMC,1,7,2,1\nMC,1,7,3,1\nMC,1,7,4,1\nMC,1,7,5,1\nMC,1,7,6,1\nMC,1,7,7,1\nMC,1,8,1,1\nMC,1,8,2,1\nMC,1,8,3,1\nMC,1,8,4,1\nMC,1,8,5,1\nMC,1,8,6,1\nMC,1,8,7,1\nMC,1,9,1,1\nMC,1,9,2,1\nMC,1,9,3,1\nMC,1,9,4,1\nMC,1,9,5,1\nMC,1,9,6,1\nMC,1,9,7,1\nMC,1,10,1,1\nMC,1,10,2,1\nMC,1,10,3,1\nMC,1,10,4,1\nMC,1,10,5,1\nMC,1,10,6,1\nMC,1,10,7,1\nMC,1,11,1,1\nMC,1,11,2,1\nMC,1,11,3,1\nMC,1,11,4,1\nMC,1,11,5,1\nMC,1,11,6,1\nMC,1,11,7,1\nMC,1,12,1,1\nMC,1,12,2,1\nMC,1,12,3,1\nMC,1,12,4,1\nMC,1,12,5,1\nMC,1,12,6,1\nMC,1,12,7,1\nMC,1,13,1,1\nMC,1,13,2,1\nMC,1,13,3,1\nMC,1,13,4,1\nMC,1,13,5,1\nMC,1,13,6,1\nMC,1,13,7,1\nMC,1,14,1,1\nMC,1,14,2,1\nMC,1,14,3,1\nMC,1,14,4,1\nMC,1,14,5,1\nMC,1,14,6,1\nMC,1,14,7,1\nMC,2,1,1,1\nMC,2,1,2,1\nMC,2,1,3,1\nMC,2,1,4,1\nMC,2,1,5,1\nMC,2,1,6,1\nMC,2,1,7,0\nMC,2,2,1,1\nMC,2,2,2,0\nMC,2,2,3,1\nMC,2,2,4,0\nMC,2,2,5,0\nMC,2,2,6,0\nMC,2,2,7,1\nMC,2,3,1,1\nMC,2,3,2,1\nMC,2,3,3,1\nMC,2,3,4,1\nMC,2,3,5,1\nMC,2,3,6,0\nMC,2,3,7,1\nMC,2,4,1,1\nMC,2,4,2,1\nMC,2,4,3,1\nMC,2,4,4,0\nMC,2,4,5,1\nMC,2,4,6,1\nMC,2,4,7,1\nMC,2,5,1,1\nMC,2,5,2,0\nMC,2,5,3,1\nMC,2,5,4,0\nMC,2,5,5,0\nMC,2,5,6,0\nMC,2,5,7,1\nMC,2,6,1,1\nMC,2,6,2,1\nMC,2,6,3,1\nMC,2,6,4,1\nMC,2,6,5,1\nMC,2,6,6,1\nMC,2,6,7,0\nMC,2,7,1,1\nMC,2,7,2,1\nMC,2,7,3,1\nMC,2,7,4,1\nMC,2,7,5,1\nMC,2,7,6,1\nMC,2,7,7,0\nMC,2,8,1,1\nMC,2,8,2,1\nMC,2,8,3,1\nMC,2,8,4,1\nMC,2,8,5,1\nMC,2,8,6,1\nMC,2,8,7,0\nMC,2,9,1,1\nMC,2,9,2,1\nMC,2,9,3,1\nMC,2,9,4,1\nMC,2,9,5,1\nMC,2,9,6,1\nMC,2,9,7,0\nMC,2,10,1,1\nMC,2,10,2,1\nMC,2,10,3,1\nMC,2,10,4,1\nMC,2,10,5,1\nMC,2,10,6,1\nMC,2,10,7,1\nMC,2,11,1,1\nMC,2,11,2,1\nMC,2,11,3,1\nMC,2,11,4,1\nMC,2,11,5,1\nMC,2,11,6,1\nMC,2,11,7,1\nMC,2,12,1,1\nMC,2,12,2,1\nMC,2,12,3,1\nMC,2,12,4,1\nMC,2,12,5,1\nMC,2,12,6,1\nMC,2,12,7,1\nMC,2,13,1,1\nMC,2,13,2,1\nMC,2,13,3,1\nMC,2,13,4,1\nMC,2,13,5,1\nMC,2,13,6,1\nMC,2,13,7,1\nMC,2,14,1,1\nMC,2,14,2,1\nMC,2,14,3,1\nMC,2,14,4,1\nMC,2,14,5,1\nMC,2,14,6,1\nMC,2,14,7,1\nMC,3,1,1,1\nMC,3,1,2,1\nMC,3,1,3,1\nMC,3,1,4,1\nMC,3,1,5,1\nMC,3,1,6,0\nMC,3,1,7,1\nMC,3,2,1,1\nMC,3,2,2,1\nMC,3,2,3,1\nMC,3,2,4,1\nMC,3,2,5,1\nMC,3,2,6,0\nMC,3,2,7,1\nMC,3,3,1,1\nMC,3,3,2,1\nMC,3,3,3,1\nMC,3,3,4,1\nMC,3,3,5,1\nMC,3,3,6,0\nMC,3,3,7,1\nMC,3,4,1,1\nMC,3,4,2,1\nMC,3,4,3,1\nMC,3,4,4,1\nMC,3,4,5,1\nMC,3,4,6,0\nMC,3,4,7,1\nMC,3,5,1,1\nMC,3,5,2,1\nMC,3,5,3,1\nMC,3,5,4,1\nMC,3,5,5,1\nMC,3,5,6,0\nMC,3,5,7,1\nMC,3,6,1,1\nMC,3,6,2,1\nMC,3,6,3,1\nMC,3,6,4,1\nMC,3,6,5,1\nMC,3,6,6,0\nMC,3,6,7,1\nMC,3,7,1,1\nMC,3,7,2,1\nMC,3,7,3,1\nMC,3,7,4,1\nMC,3,7,5,1\nMC,3,7,6,0\nMC,3,7,7,1\nMC,3,8,1,1\nMC,3,8,2,1\nMC,3,8,3,1\nMC,3,8,4,1\nMC,3,8,5,1\nMC,3,8,6,0\nMC,3,8,7,1\nMC,3,9,1,1\nMC,3,9,2,1\nMC,3,9,3,1\nMC,3,9,4,1\nMC,3,9,5,1\nMC,3,9,6,0\nMC,3,9,7,1\nMC,3,10,1,1\nMC,3,10,2,1\nMC,3,10,3,1\nMC,3,10,4,1\nMC,3,10,5,1\nMC,3,10,6,1\nMC,3,10,7,1\nMC,3,11,1,1\nMC,3,11,2,1\nMC,3,11,3,1\nMC,3,11,4,1\nMC,3,11,5,1\nMC,3,11,6,1\nMC,3,11,7,1\nMC,3,12,1,1\nMC,3,12,2,1\nMC,3,12,3,1\nMC,3,12,4,1\nMC,3,12,5,1\nMC,3,12,6,1\nMC,3,12,7,1\nMC,3,13,1,1\nMC,3,13,2,1\nMC,3,13,3,1\nMC,3,13,4,1\nMC,3,13,5,1\nMC,3,13,6,1\nMC,3,13,7,1\nMC,3,14,1,1\nMC,3,14,2,1\nMC,3,14,3,1\nMC,3,14,4,1\nMC,3,14,5,1\nMC,3,14,6,1\nMC,3,14,7,1", "format": {"type": "csv", "parse": {"n": "number", "r": "number", "p": "number", "m": "number"}}},
  "encoding": {
    "x": {"field": "n", "type": "ordinal", "axis": null, "scale": {"domain": [1, 2, 3], "paddingInner": 0.184, "paddingOuter": 0.1255, "align": 0.217}},
    "y": {"field": "c", "type": "nominal", "axis": null, "scale": {"domain": ["HC", "MC"], "paddingInner": 0.156, "paddingOuter": 0.1853, "align": 0.601}}
  },
  "layer": [
    {"transform": [{"aggregate": [{"op": "count", "as": "k"}], "groupby": ["c", "n", "r"]}],
     "mark": {"type": "tick", "orient": "horizontal", "size": 195, "thickness": 2, "color": "#9a9a9a"},
     "encoding": {"yOffset": {"field": "r", "type": "ordinal", "scale": {"type": "band", "domain": [1,2,3,4,5,6,7,8,9,10,11,12,13,14], "paddingInner": 0, "paddingOuter": 0}}}},
    {"mark": {"type": "point", "shape": "circle", "filled": true, "size": 132, "strokeWidth": 1.3, "opacity": 1},
     "encoding": {
       "xOffset": {"field": "p", "type": "ordinal", "scale": {"type": "band", "domain": [1,2,3,4,5,6,7], "paddingInner": 0, "paddingOuter": 0}},
       "yOffset": {"field": "r", "type": "ordinal"},
       "fill": {"field": "m", "type": "nominal", "scale": {"domain": [0, 1], "range": ["#ffffff", "#000000"]}, "legend": null},
       "stroke": {"field": "m", "type": "nominal", "scale": {"domain": [0, 1], "range": ["#6e6e6e", "#000000"]}, "legend": null}}},
    {"data": {"values": [{"gene": "SLC40A1"}]},
     "mark": {"type": "text", "fontSize": 40, "baseline": "middle", "dx": 15, "dy": -43},
     "encoding": {"x": {"datum": 2, "type": "ordinal"}, "y": {"datum": "HC", "type": "nominal"}, "yOffset": {"datum": 1, "type": "ordinal"}, "text": {"field": "gene"}}},
    {"data": {"values": [{"c": "HC", "n": 1, "s": "HC1", "pct": "98.57%"}, {"c": "HC", "n": 2, "s": "HC2", "pct": "100%"}, {"c": "HC", "n": 3, "s": "HC3", "pct": "95.71%"}, {"c": "MC", "n": 1, "s": "MC1", "pct": "91.43%"}, {"c": "MC", "n": 2, "s": "MC2", "pct": "78.57%"}, {"c": "MC", "n": 3, "s": "MC3", "pct": "87.14%"}]},
     "mark": {"type": "text", "fontSize": 37, "align": "right", "baseline": "middle", "dx": -20, "dy": 39},
     "encoding": {"yOffset": {"datum": 14, "type": "ordinal"}, "text": {"field": "s"}}},
    {"data": {"values": [{"c": "HC", "n": 1, "s": "HC1", "pct": "98.57%"}, {"c": "HC", "n": 2, "s": "HC2", "pct": "100%"}, {"c": "HC", "n": 3, "s": "HC3", "pct": "95.71%"}, {"c": "MC", "n": 1, "s": "MC1", "pct": "91.43%"}, {"c": "MC", "n": 2, "s": "MC2", "pct": "78.57%"}, {"c": "MC", "n": 3, "s": "MC3", "pct": "87.14%"}]},
     "mark": {"type": "text", "fontSize": 37, "align": "left", "baseline": "middle", "dx": 12, "dy": 39},
     "encoding": {"yOffset": {"datum": 14, "type": "ordinal"}, "text": {"field": "pct"}}}
  ]
},
{
  "width": 1045, "height": 602,
  "title": {"text": "C", "dx": -62, "dy": 25},
  "data": {"values": [{"group": "healthy cows", "mean": 0.183, "upper": 0.205}, {"group": "mastitis cows", "mean": 0.682, "upper": 0.843}]},
  "encoding": {
    "x": {"field": "group", "type": "nominal", "title": null,
          "scale": {"domain": ["healthy cows", "mastitis cows"], "paddingInner": 0, "paddingOuter": 0.3823, "align": 0.8235},
          "axis": {"orient": "bottom", "offset": -83, "domain": false, "ticks": true, "tickBand": "extent", "tickSize": 7, "tickWidth": 1.5, "tickColor": "#404040", "labelAngle": 0, "labelPadding": 21, "labelFontSize": 37, "labelLimit": 0, "labelBaseline": "top"}}
  },
  "layer": [
    {"mark": {"type": "bar", "color": "#5B9BD5", "width": {"band": 0.3}},
     "encoding": {"y": {"field": "mean", "type": "quantitative", "scale": {"domain": [-0.1766, 1.1043], "nice": false, "zero": false},
       "axis": {"orient": "left", "offset": -238, "values": [0, 0.1, 0.2, 0.3, 0.4, 0.5, 0.6, 0.7, 0.8, 0.9], "format": "~g", "domain": false, "ticks": true, "tickSize": 7, "tickWidth": 1.5, "tickColor": "#404040", "labelFontSize": 35, "labelPadding": 3, "title": ["CITED2 mRNA relative", "expression level"], "titleFontSize": 37, "titleLineHeight": 30, "titlePadding": 33, "titleY": 320}}}},
    {"mark": {"type": "bar", "color": "#404040", "width": {"band": 1}},
     "encoding": {"y": {"datum": 0}, "y2": {"datum": -0.0032}}},
    {"mark": {"type": "rule", "color": "#404040", "strokeWidth": 1.5},
     "encoding": {"x": {"datum": "healthy cows", "bandPosition": 0}, "y": {"datum": 0}, "y2": {"datum": 0.9}}},
    {"mark": {"type": "rule", "color": "black", "strokeWidth": 1.5},
     "encoding": {"y": {"field": "mean", "type": "quantitative"}, "y2": {"field": "upper"}}},
    {"mark": {"type": "tick", "orient": "horizontal", "size": 16, "thickness": 1.5, "color": "black"},
     "encoding": {"y": {"field": "upper", "type": "quantitative"}}},
    {"data": {"values": [{"a": "healthy cows", "b": "mastitis cows", "top": 1.005, "l": 0.669, "r": 0.934, "ty": 1.028, "p": "P", "s": "<0.05"}]},
     "mark": {"type": "rule", "color": "black", "strokeWidth": 1.8},
     "encoding": {"x": {"field": "a", "type": "nominal", "bandPosition": 0.5}, "x2": {"field": "b", "bandPosition": 0.5}, "y": {"field": "top", "type": "quantitative"}}},
    {"data": {"values": [{"a": "healthy cows", "b": "mastitis cows", "top": 1.005, "l": 0.669, "r": 0.934, "ty": 1.028, "p": "P", "s": "<0.05"}]},
     "mark": {"type": "rule", "color": "black", "strokeWidth": 1.8},
     "encoding": {"x": {"field": "a", "type": "nominal", "bandPosition": 0.5}, "y": {"field": "l", "type": "quantitative"}, "y2": {"field": "top"}}},
    {"data": {"values": [{"a": "healthy cows", "b": "mastitis cows", "top": 1.005, "l": 0.669, "r": 0.934, "ty": 1.028, "p": "P", "s": "<0.05"}]},
     "mark": {"type": "rule", "color": "black", "strokeWidth": 1.8},
     "encoding": {"x": {"field": "b", "type": "nominal", "bandPosition": 0.5}, "y": {"field": "r", "type": "quantitative"}, "y2": {"field": "top"}}},
    {"data": {"values": [{"a": "healthy cows", "b": "mastitis cows", "top": 1.005, "l": 0.669, "r": 0.934, "ty": 1.028, "p": "P", "s": "<0.05"}]},
     "mark": {"type": "text", "fontSize": 38, "fontStyle": "italic", "align": "right", "baseline": "alphabetic"},
     "encoding": {"x": {"field": "a", "type": "nominal", "bandPosition": 0.8}, "y": {"field": "ty", "type": "quantitative"}, "text": {"field": "p"}}},
    {"data": {"values": [{"a": "healthy cows", "b": "mastitis cows", "top": 1.005, "l": 0.669, "r": 0.934, "ty": 1.028, "p": "P", "s": "<0.05"}]},
     "mark": {"type": "text", "fontSize": 38, "align": "left", "baseline": "alphabetic"},
     "encoding": {"x": {"field": "a", "type": "nominal", "bandPosition": 0.8}, "y": {"field": "ty", "type": "quantitative"}, "text": {"field": "s"}}}
  ]
},
{
  "width": 733, "height": 602,
  "title": {"text": "D", "dx": -62, "dy": 29},
  "data": {"values": [{"group": "healthy cows", "mean": 0.334, "upper": 0.362}, {"group": "mastitis cows", "mean": 0.771, "upper": 0.891}]},
  "encoding": {
    "x": {"field": "group", "type": "nominal", "title": null,
          "scale": {"domain": ["healthy cows", "mastitis cows"], "paddingInner": 0, "paddingOuter": 0.3625, "align": 0.926},
          "axis": {"orient": "bottom", "offset": -87, "domain": false, "ticks": true, "tickBand": "extent", "tickSize": 7, "tickWidth": 1.5, "tickColor": "#404040", "labelAngle": 0, "labelPadding": 21, "labelFontSize": 37, "labelLimit": 0, "labelBaseline": "top"}}
  },
  "layer": [
    {"mark": {"type": "bar", "color": "#5B9BD5", "width": {"band": 0.31}},
     "encoding": {"y": {"field": "mean", "type": "quantitative", "scale": {"domain": [-0.1847, 1.0934], "nice": false, "zero": false},
       "axis": {"orient": "left", "offset": -181, "values": [0, 0.1, 0.2, 0.3, 0.4, 0.5, 0.6, 0.7, 0.8, 0.9, 1], "format": "~g", "domain": false, "ticks": true, "tickSize": 7, "tickWidth": 1.5, "tickColor": "#404040", "labelFontSize": 35, "labelPadding": 3, "title": ["SLC40A1 mRNA relative", "expression level"], "titleFontSize": 37, "titleLineHeight": 30, "titlePadding": 33}}}},
    {"mark": {"type": "bar", "color": "#404040", "width": {"band": 1}},
     "encoding": {"y": {"datum": 0}, "y2": {"datum": -0.0032}}},
    {"mark": {"type": "rule", "color": "#404040", "strokeWidth": 1.5},
     "encoding": {"x": {"datum": "healthy cows", "bandPosition": 0}, "y": {"datum": 0}, "y2": {"datum": 1}}},
    {"mark": {"type": "rule", "color": "black", "strokeWidth": 1.5},
     "encoding": {"y": {"field": "mean", "type": "quantitative"}, "y2": {"field": "upper"}}},
    {"mark": {"type": "tick", "orient": "horizontal", "size": 16, "thickness": 1.5, "color": "black"},
     "encoding": {"y": {"field": "upper", "type": "quantitative"}}},
    {"data": {"values": [{"a": "healthy cows", "b": "mastitis cows", "top": 0.968, "l": 0.734, "r": 0.919, "ty": 1.0, "p": "P", "s": "<0.05"}]},
     "mark": {"type": "rule", "color": "black", "strokeWidth": 1.8},
     "encoding": {"x": {"field": "a", "type": "nominal", "bandPosition": 0.22}, "x2": {"field": "b", "bandPosition": 0.4}, "y": {"field": "top", "type": "quantitative"}}},
    {"data": {"values": [{"a": "healthy cows", "b": "mastitis cows", "top": 0.968, "l": 0.734, "r": 0.919, "ty": 1.0, "p": "P", "s": "<0.05"}]},
     "mark": {"type": "rule", "color": "black", "strokeWidth": 1.8},
     "encoding": {"x": {"field": "a", "type": "nominal", "bandPosition": 0.22}, "y": {"field": "l", "type": "quantitative"}, "y2": {"field": "top"}}},
    {"data": {"values": [{"a": "healthy cows", "b": "mastitis cows", "top": 0.968, "l": 0.734, "r": 0.919, "ty": 1.0, "p": "P", "s": "<0.05"}]},
     "mark": {"type": "rule", "color": "black", "strokeWidth": 1.8},
     "encoding": {"x": {"field": "b", "type": "nominal", "bandPosition": 0.4}, "y": {"field": "r", "type": "quantitative"}, "y2": {"field": "top"}}},
    {"data": {"values": [{"a": "healthy cows", "b": "mastitis cows", "top": 0.968, "l": 0.734, "r": 0.919, "ty": 1.0, "p": "P", "s": "<0.05"}]},
     "mark": {"type": "text", "fontSize": 39, "fontStyle": "italic", "align": "right", "baseline": "alphabetic"},
     "encoding": {"x": {"field": "a", "type": "nominal", "bandPosition": 0.62}, "y": {"field": "ty", "type": "quantitative"}, "text": {"field": "p"}}},
    {"data": {"values": [{"a": "healthy cows", "b": "mastitis cows", "top": 0.968, "l": 0.734, "r": 0.919, "ty": 1.0, "p": "P", "s": "<0.05"}]},
     "mark": {"type": "text", "fontSize": 39, "align": "left", "baseline": "alphabetic"},
     "encoding": {"x": {"field": "a", "type": "nominal", "bandPosition": 0.62}, "y": {"field": "ty", "type": "quantitative"}, "text": {"field": "s"}}}
  ]
}
]
}
